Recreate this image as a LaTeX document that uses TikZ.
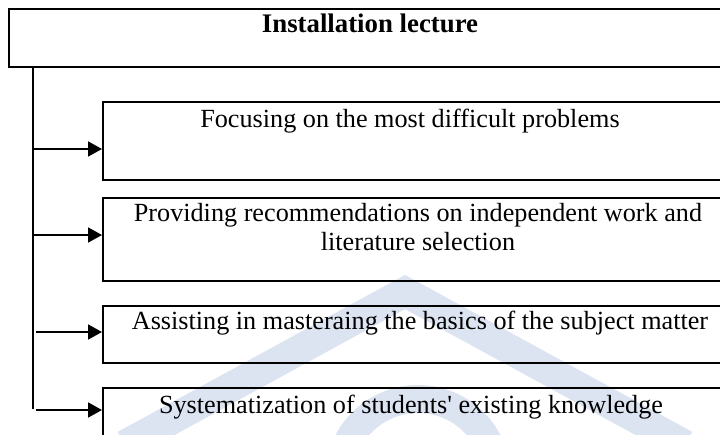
\documentclass[tikz,border=0pt]{standalone}
\usepackage{fontspec}
\setmainfont{Liberation Serif}
\usetikzlibrary{arrows.meta}
\definecolor{wmblue}{HTML}{DCE3F1}
\begin{document}
\begin{tikzpicture}[x=1pt,y=-1pt,
  box/.style={draw=black, line width=1.6pt, anchor=north west, inner sep=0pt},
  txt/.style={font=\fontsize{26.2}{30}\selectfont, anchor=base, inner sep=0pt},
  ttl/.style={font=\fontsize{26.8}{30}\selectfont\bfseries, anchor=base, inner sep=0pt},
  conn/.style={-{Triangle[length=14pt,width=15pt]}, line width=1.8pt},
  trunk/.style={line width=1.8pt},
  wm/.style={wmblue, line width=30pt, line join=miter}]
\useasboundingbox (0,0) rectangle (720,434);
\begin{scope}
\clip (0,0) rectangle (720,434);
% faint watermark
\draw[wm] (125,445) -- (405,292) -- (685,445);
\draw[wmblue, line width=28pt] (418,478) circle[radius=79];
% boxes
\node[box, minimum width=735pt, minimum height=58pt] (top) at (8,8) {};
\node[box, minimum width=640pt, minimum height=78pt] (b1) at (102,101) {};
\node[box, minimum width=640pt, minimum height=83pt] (b2) at (102,197) {};
\node[box, minimum width=640pt, minimum height=57pt] (b3) at (102,305) {};
\node[box, minimum width=640pt, minimum height=80pt] (b4) at (102,387) {};
\end{scope}
% texts
\node[ttl] (t0) at (370,32) {Installation lecture};
\node[txt] (t1) at (410,127) {Focusing on the most difficult problems};
\node[txt] (t2a) at (418,221) {Providing recommendations on independent work and};
\node[txt] (t2b) at (418,250) {literature selection};
\node[txt] (t3) at (420,329) {Assisting in masteraing the basics of the subject matter};
\node[txt] (t4) at (411,413) {Systematization of students\textquotesingle\ existing knowledge};
% trunk and connectors
\coordinate (s0) at (33,66);
\coordinate (s1) at (33,149);
\coordinate (s2) at (33,235);
\coordinate (s3) at (36,332);
\coordinate (s4) at (36,410);
\coordinate (send) at (33,409);
\draw[trunk] (s0) -- (send);
\draw[conn] (s1) -- (s1 -| b1.west);
\draw[conn] (s2) -- (s2 -| b2.west);
\draw[conn] (s3) -- (s3 -| b3.west);
\draw[conn] (s4) -- (s4 -| b4.west);
\end{tikzpicture}
\end{document}
